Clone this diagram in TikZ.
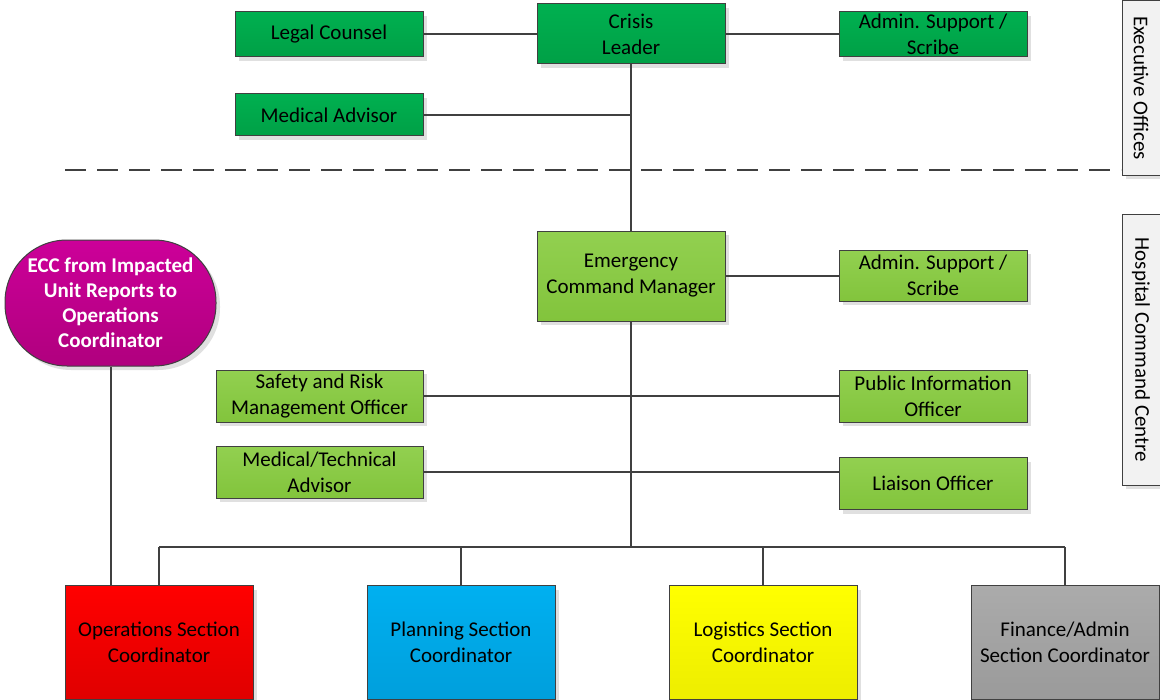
\documentclass[tikz,border=0pt]{standalone}
\usepackage{fontspec}
\setmainfont{Carlito}
\usetikzlibrary{shadows}
\definecolor{dkgreen}{HTML}{00B050}
\definecolor{dkgreenB}{HTML}{00A046}
\definecolor{ltgreen}{HTML}{92D050}
\definecolor{ltgreenB}{HTML}{82C43C}
\definecolor{magtop}{HTML}{CC0099}
\definecolor{magbot}{HTML}{B0007E}
\definecolor{redtop}{HTML}{FF0000}
\definecolor{redbot}{HTML}{E00000}
\definecolor{bluetop}{HTML}{00B0F0}
\definecolor{bluebot}{HTML}{009FDC}
\definecolor{yeltop}{HTML}{FFFF00}
\definecolor{yelbot}{HTML}{EDED00}
\definecolor{greytop}{HTML}{ABABAB}
\definecolor{greybot}{HTML}{9A9A9A}
\definecolor{edge}{HTML}{404040}
\definecolor{conn}{HTML}{404040}
\definecolor{lblfill}{HTML}{F2F2F2}
\tikzset{
  box/.style={draw=edge, line width=0.5pt, align=center, inner sep=1pt,
    font=\fontsize{10.5}{13}\selectfont, text=black,
    drop shadow={shadow xshift=2pt, shadow yshift=-2pt, fill=black!12, opacity=1}},
  dgbox/.style={box, top color=dkgreen, bottom color=dkgreenB, minimum width=94pt},
  lgbox/.style={box, top color=ltgreen, bottom color=ltgreenB},
  lblbox/.style={draw=edge, line width=0.5pt, fill=lblfill, rotate=-90,
    font=\fontsize{10.5}{13}\selectfont, minimum height=19pt,
    drop shadow={shadow xshift=2pt, shadow yshift=-2pt, fill=black!12, opacity=1}},
  link/.style={draw=conn, line width=1pt},
}
\begin{document}
\begin{tikzpicture}[x=0.5pt, y=-0.5pt]
\useasboundingbox (0,0) rectangle (1160,700);

% executive offices
\node[dgbox, minimum height=22.5pt] (legal) at (329,34.5) {Legal Counsel};
\node[dgbox, minimum height=30pt] (crisis) at (631,34) {Crisis\\Leader};
\node[dgbox, minimum height=22.5pt] (admin1) at (933,34.5) {Admin. Support /\\Scribe};
\node[dgbox, minimum height=21pt] (medadv) at (329,115) {Medical Advisor};

% hospital command centre
\node[lgbox, minimum width=94pt, minimum height=45pt] (ecm) at (631,276) {Emergency\\Command Manager};
\node[lgbox, minimum width=94pt, minimum height=25.5pt] (admin2) at (933,275.5) {Admin. Support /\\Scribe};
\node[lgbox, minimum width=103.5pt, minimum height=26pt] (safety) at (319.5,396) {Safety and Risk\\Management Officer};
\node[lgbox, minimum width=94pt, minimum height=26pt] (pio) at (933,396) {Public Information\\Officer};
\node[lgbox, minimum width=103.5pt, minimum height=26pt] (medtech) at (319.5,472) {Medical/Technical\\Advisor};
\node[lgbox, minimum width=94pt, minimum height=26pt] (liaison) at (933,483.5) {Liaison Officer};

% ECC
\node[box, top color=magtop, bottom color=magbot, text=white,
      font=\fontsize{10.5}{12.5}\selectfont\bfseries,
      minimum width=105.5pt, minimum height=63pt, rounded corners=31pt] (ecc) at (110.5,303)
      {ECC from Impacted\\Unit Reports to\\Operations\\Coordinator};

% sections
\node[box, top color=redtop, bottom color=redbot, minimum width=94pt, minimum height=57pt] (ops) at (159,642.5) {Operations Section\\Coordinator};
\node[box, top color=bluetop, bottom color=bluebot, minimum width=94pt, minimum height=57pt] (plan) at (461,642.5) {Planning Section\\Coordinator};
\node[box, top color=yeltop, bottom color=yelbot, minimum width=94pt, minimum height=57pt] (log) at (763,642.5) {Logistics Section\\Coordinator};
\node[box, top color=greytop, bottom color=greybot, minimum width=94pt, minimum height=57pt] (fin) at (1065,642.5) {Finance/Admin\\Section Coordinator};

% side labels
\node[lblbox, minimum width=87.5pt] (exec) at (1141,88) {Executive Offices};
\node[lblbox, minimum width=135pt] (hcc) at (1141,350) {Hospital Command Centre};

% dashed separator
\coordinate (dashL) at (65,170);
\coordinate (dashR) at (1121,170);
\draw[link, dash pattern=on 10.5pt off 5.5pt] (dashL) -- (dashR);

% connectors
\draw[link] (crisis.west |- legal.east) -- (legal.east);
\draw[link] (crisis.east |- admin1.west) -- (admin1.west);
\draw[link] (crisis.south) -- (ecm.north);
\draw[link] (medadv.east) -- (medadv.east -| crisis.south);
\draw[link] (ecm.east |- admin2.west) -- (admin2.west);
\coordinate (bus) at (631,547);
\draw[link] (ecm.south) -- (bus);
\draw[link] (safety.east) -- (pio.west);
\draw[link] (medtech.east) -- (medtech.east -| liaison.west);
\draw[link] (ops.north |- bus) -- (fin.north |- bus);
\draw[link] (ops.north |- bus) -- (ops.north);
\draw[link] (plan.north |- bus) -- (plan.north);
\draw[link] (log.north |- bus) -- (log.north);
\draw[link] (fin.north |- bus) -- (fin.north);
\draw[link] (ecc.south) -- (ecc.south |- ops.north);
\end{tikzpicture}
\end{document}
